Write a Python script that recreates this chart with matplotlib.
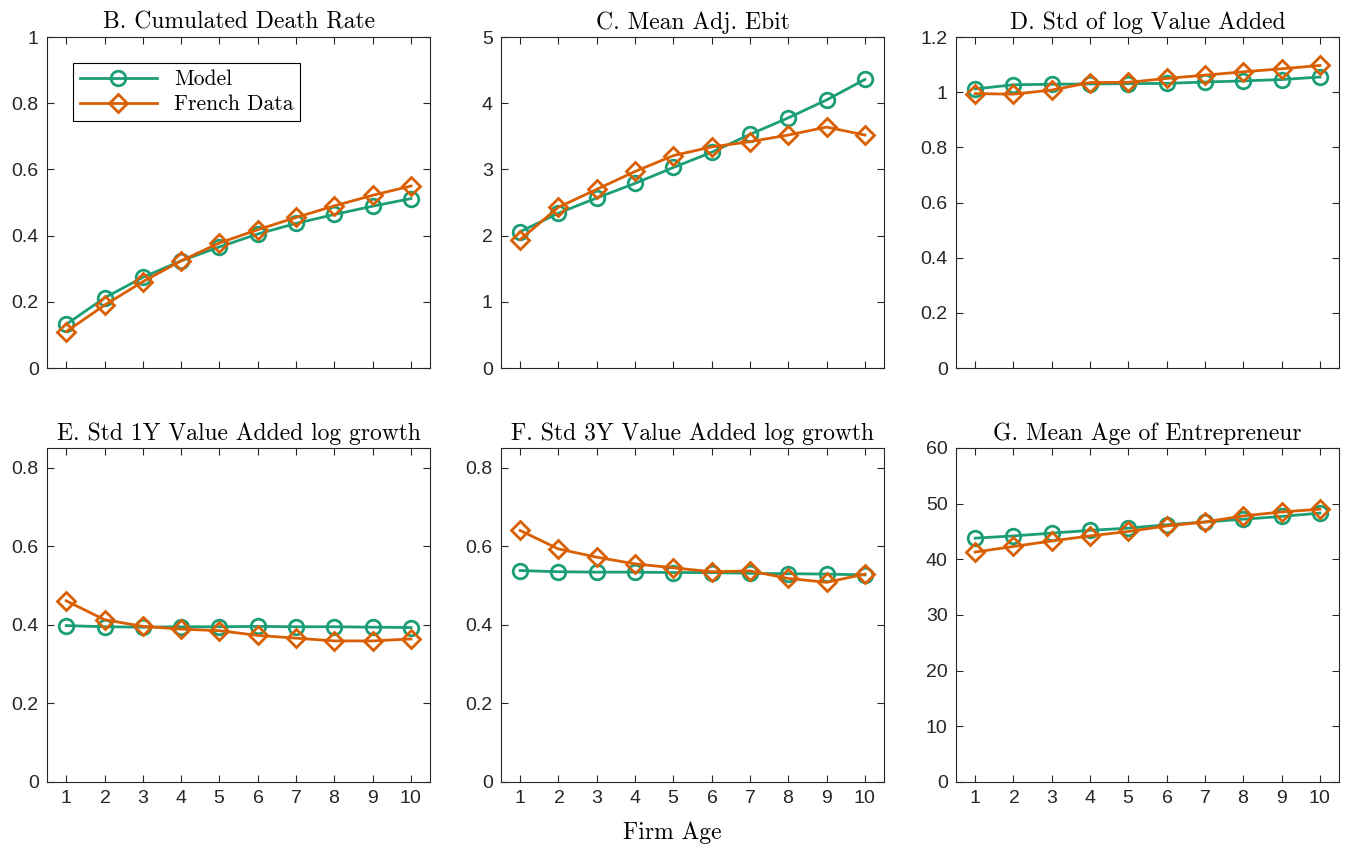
import numpy as np
import matplotlib
matplotlib.use("Agg")
import matplotlib.pyplot as plt
from matplotlib.ticker import FuncFormatter

age = list(range(1, 11))

titles = ["B. Cumulated Death Rate", "C. Mean Adj. Ebit", "D. Std of log Value Added",
          "E. Std 1Y Value Added log growth", "F. Std 3Y Value Added log growth",
          "G. Mean Age of Entrepreneur"]

death_model = [0.132, 0.212, 0.274, 0.324, 0.366, 0.405, 0.437, 0.464, 0.489, 0.512]
death_data = [0.110, 0.190, 0.261, 0.324, 0.378, 0.418, 0.455, 0.490, 0.522, 0.550]

ebit_model = [2.06, 2.34, 2.57, 2.79, 3.03, 3.26, 3.53, 3.78, 4.05, 4.36]
ebit_data = [1.94, 2.43, 2.70, 2.97, 3.21, 3.34, 3.42, 3.52, 3.64, 3.52]

stdva_model = [1.012, 1.027, 1.029, 1.030, 1.031, 1.032, 1.037, 1.041, 1.046, 1.055]
stdva_data = [0.995, 0.993, 1.008, 1.035, 1.036, 1.050, 1.062, 1.074, 1.085, 1.097]

g1_model = [0.398, 0.395, 0.394, 0.395, 0.395, 0.396, 0.395, 0.395, 0.394, 0.393]
g1_data = [0.461, 0.413, 0.396, 0.389, 0.385, 0.373, 0.366, 0.359, 0.359, 0.364]

g3_model = [0.538, 0.535, 0.534, 0.534, 0.533, 0.533, 0.531, 0.530, 0.529, 0.527]
g3_data = [0.640, 0.593, 0.572, 0.555, 0.545, 0.535, 0.537, 0.518, 0.508, 0.529]

ageent_model = [43.8, 44.2, 44.7, 45.2, 45.6, 46.2, 46.7, 47.2, 47.7, 48.3]
ageent_data = [41.3, 42.3, 43.3, 44.2, 45.0, 46.0, 46.7, 47.8, 48.5, 49.0]

models = [death_model, ebit_model, stdva_model, g1_model, g3_model, ageent_model]
datas = [death_data, ebit_data, stdva_data, g1_data, g3_data, ageent_data]
ylims = [(0, 1), (0, 5), (0, 1.2), (0, 0.85), (0, 0.85), (0, 60)]
yticks = [np.arange(0, 1.01, 0.2), np.arange(0, 5.1, 1), np.arange(0, 1.21, 0.2),
          np.arange(0, 0.81, 0.2), np.arange(0, 0.81, 0.2), np.arange(0, 61, 10)]

green = "#1b9e77"
orange = "#d95f02"
serif = "cmr10"
plt.rcParams['axes.formatter.use_mathtext'] = True

fig = plt.figure(figsize=(13.45, 8.5), dpi=100)
lefts = [0.035, 0.3725, 0.7108]
bottoms = [0.567, 0.08]
w = 0.2848
heights = [0.3894, 0.393]

for i in range(6):
    r, c = divmod(i, 3)
    ax = fig.add_axes([lefts[c], bottoms[r], w, heights[r]])
    ax.plot(age, models[i], color=green, lw=2, marker='o', ms=10.5, mfc='none', mew=2, label='Model')
    ax.plot(age, datas[i], color=orange, lw=2, marker='D', ms=9.5, mfc='none', mew=2, label='French Data')
    ax.set_xlim(0.5, 10.5)
    ax.set_ylim(*ylims[i])
    ax.set_xticks(age)
    ax.set_yticks(yticks[i])
    ax.yaxis.set_major_formatter(FuncFormatter(lambda v, p: "%g" % round(v, 2)))
    ax.tick_params(direction='in', top=True, right=True, length=5, width=0.8,
                   labelsize=14, colors='#262626', pad=6)
    for lab in ax.get_xticklabels() + ax.get_yticklabels():
        lab.set_fontfamily('Liberation Sans')
    if r == 0:
        ax.tick_params(labelbottom=False)
    for s in ax.spines.values():
        s.set_color('#262626')
        s.set_linewidth(0.8)
    ax.set_title(titles[i], fontfamily=serif, fontsize=17, pad=6)
    if i == 0:
        leg = ax.legend(loc='upper left', bbox_to_anchor=(0.068, 0.921), fancybox=False,
                        edgecolor='black', framealpha=1, handlelength=3.6,
                        prop={'family': serif, 'size': 15.5}, borderpad=0.3,
                        labelspacing=0.25, borderaxespad=0)
        leg.get_frame().set_linewidth(0.8)

fig.text(0.5, 0.013, "Firm Age", ha='center', fontfamily=serif, fontsize=17)

fig.savefig("out.png", dpi=100)
